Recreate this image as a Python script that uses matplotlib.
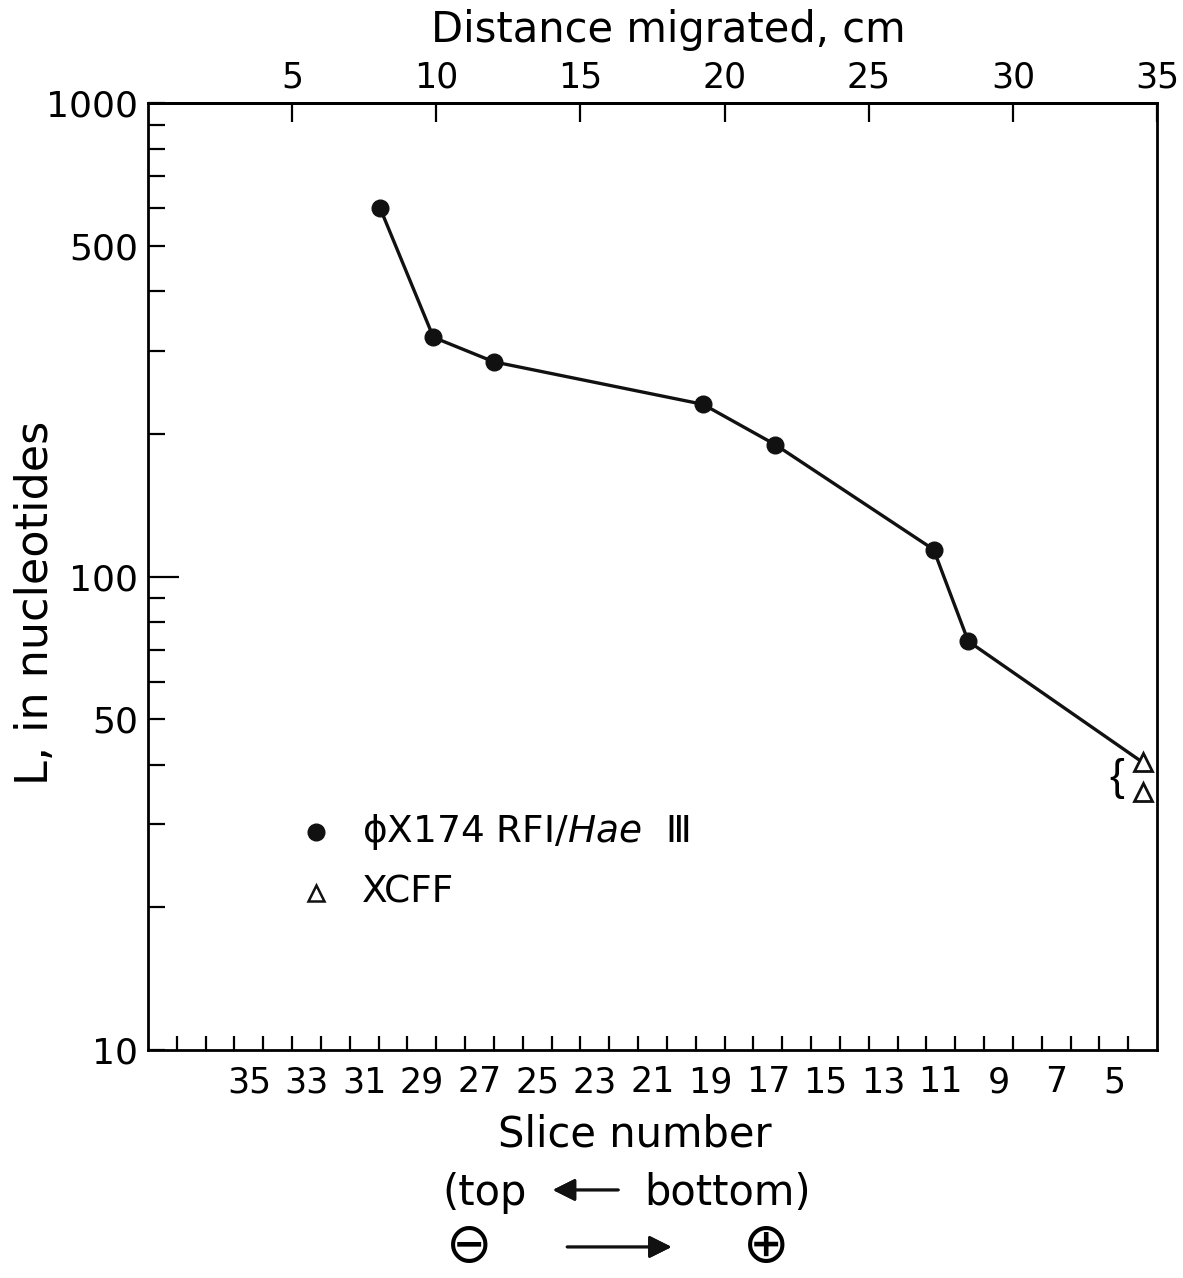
import matplotlib
matplotlib.use('Agg')
from matplotlib import pyplot as plt
from matplotlib.ticker import FixedLocator, NullFormatter

plt.rcParams['font.family'] = ['DejaVu Sans']

# phiX174 RFI / Hae III fragments, distance migrated (cm) vs length (nt)
distance_cm = [8.05, 9.9, 12.0, 19.25, 21.75, 27.25, 28.45]
length_nt = [600, 320, 284, 231, 190, 114, 73]

# xylene cyanol FF markers
xcff_cm = [34.5, 34.5]
xcff_nt = [40.5, 35.0]

top_ticks = [5, 10, 15, 20, 25, 30, 35]
slice_labels = list(range(35, 4, -2))
y_major = [10, 50, 100, 500, 1000]
y_minor = [20, 30, 40, 60, 70, 80, 90, 200, 300, 400, 600, 700, 800, 900]

fig = plt.figure(figsize=(11.83, 12.78), dpi=100)
ax = fig.add_axes([0.1251, 0.1784, 0.853, 0.741])

# line through the markers and on to the upper XCFF point
ax.plot(distance_cm + xcff_cm[:1], length_nt + xcff_nt[:1], color='#111111', lw=2.4, zorder=2)
ax.plot(distance_cm, length_nt, 'o', color='#111111', ms=12, zorder=3)
ax.plot(xcff_cm, xcff_nt, '^', mfc='white', mec='#111111', mew=2.0, ms=13, zorder=4, clip_on=False)

ax.set_xlim(0, 35)
ax.set_yscale('log')
ax.set_ylim(10, 1000)

for sp in ax.spines.values():
    sp.set_linewidth(2.0)

# y axis
ax.yaxis.set_major_locator(FixedLocator(y_major))
ax.set_yticklabels([str(v) for v in y_major])
ax.yaxis.set_minor_locator(FixedLocator(y_minor))
ax.yaxis.set_minor_formatter(NullFormatter())
ax.tick_params(axis='y', which='both', direction='in', width=1.6, labelsize=26, pad=7)
ax.tick_params(axis='y', which='major', length=12)
ax.tick_params(axis='y', which='minor', length=12)
for t in ax.yaxis.get_major_ticks():
    if t.get_loc() == 100:
        t.tick1line.set_markersize(22)

# bottom axis: slice numbers centred on slices, ticks at slice borders
slice_pos = [38.5 - s for s in slice_labels]
ax.set_xticks(slice_pos)
ax.set_xticklabels([str(s) for s in slice_labels])
ax.xaxis.set_minor_locator(FixedLocator(list(range(1, 35))))
ax.tick_params(axis='x', which='major', length=0, labelsize=25, pad=11)
ax.tick_params(axis='x', which='minor', direction='in', length=10, width=1.6)
ax.tick_params(top=False, right=False)

# top axis: distance migrated
top = ax.secondary_xaxis('top')
top.set_xticks(top_ticks)
top.set_xticklabels([str(v) for v in top_ticks])
top.tick_params(direction='in', length=14, width=1.6, labelsize=25, pad=6)
top.spines['top'].set_linewidth(2.0)

# legend drawn by hand
ax.plot([0.1665], [0.2302], 'o', color='#111111', ms=12, transform=ax.transAxes)
ax.text(0.212, 0.2302, 'ϕX174 RFⅠ/$\\it{Hae}$  Ⅲ', transform=ax.transAxes,
        fontsize=27, va='center', ha='left')
ax.plot([0.1665], [0.1658], '^', mfc='white', mec='#111111', mew=1.8, ms=11, transform=ax.transAxes)
ax.text(0.212, 0.1658, 'XCFF', transform=ax.transAxes, fontsize=27, va='center', ha='left')

# brace next to the two XCFF points
ax.text(0.96, 0.287, '{', transform=ax.transAxes, fontsize=32, va='center', ha='center',
        family=['Liberation Sans'])

# axis titles
fig.text(0.5647, 0.9765, 'Distance migrated, cm', fontsize=30, ha='center', va='center')
fig.text(0.0296, 0.5285, 'L, in nucleotides', fontsize=32, ha='center', va='center', rotation=90)
fig.text(0.537, 0.1125, 'Slice number', fontsize=30, ha='center', va='center')

fig.text(0.4455, 0.0665, '(top', fontsize=30, ha='right', va='center')
fig.text(0.545, 0.0665, 'bottom)', fontsize=30, ha='left', va='center')
fig.add_artist(plt.annotate('', xy=(0.465, 0.0689), xytext=(0.525, 0.0689), xycoords='figure fraction',
                            arrowprops=dict(arrowstyle='-|>', color='#111111', lw=2.0, mutation_scale=34)))

fig.text(0.397, 0.0243, '⊖', fontsize=40, ha='center', va='center', family=['DejaVu Sans'])
fig.text(0.6475, 0.0243, '⊕', fontsize=40, ha='center', va='center', family=['DejaVu Sans'])
fig.add_artist(plt.annotate('', xy=(0.570, 0.0243), xytext=(0.477, 0.0243), xycoords='figure fraction',
                            arrowprops=dict(arrowstyle='-|>', color='#111111', lw=2.0, mutation_scale=34)))

fig.savefig('out.png', dpi=100, facecolor='white')
